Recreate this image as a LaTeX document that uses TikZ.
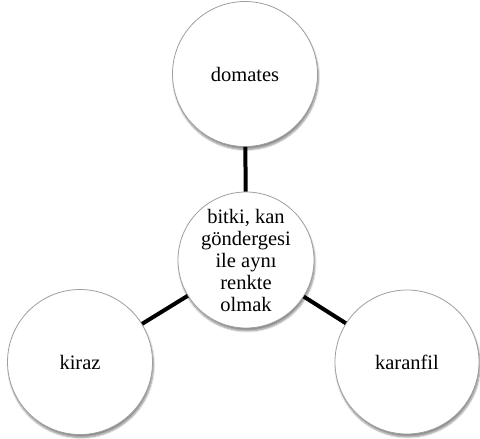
\documentclass[tikz,border=0pt]{standalone}
\usepackage{fontspec}
\setmainfont{Liberation Serif}
\usetikzlibrary{shadows.blur}
\begin{document}
\begin{tikzpicture}[x=1pt,y=-1pt,font=\fontsize{20.5}{22}\selectfont,
		bubble/.style={circle,draw=gray!75,line width=0.8pt,fill=white,inner sep=0pt,align=center,
			blur shadow={shadow xshift=1pt,shadow yshift=-3pt,shadow blur steps=6,shadow opacity=45}},
		link/.style={line width=4pt}]
	\useasboundingbox (0,0) rectangle (480,439);
	\node[bubble,minimum size=145pt] (domates) at (245,74) {domates};
	\node[bubble,minimum size=136pt] (merkez) at (246,260) {bitki, kan\\göndergesi\\ile aynı\\renkte\\olmak};
	\node[bubble,minimum size=145pt] (kiraz) at (80,362) {kiraz};
	\node[bubble,minimum size=144pt] (karanfil) at (407,362) {karanfil};
	\draw[link] (merkez) -- (domates);
	\draw[link] (merkez) -- (kiraz);
	\draw[link] (merkez) -- (karanfil);
\end{tikzpicture}
\end{document}
